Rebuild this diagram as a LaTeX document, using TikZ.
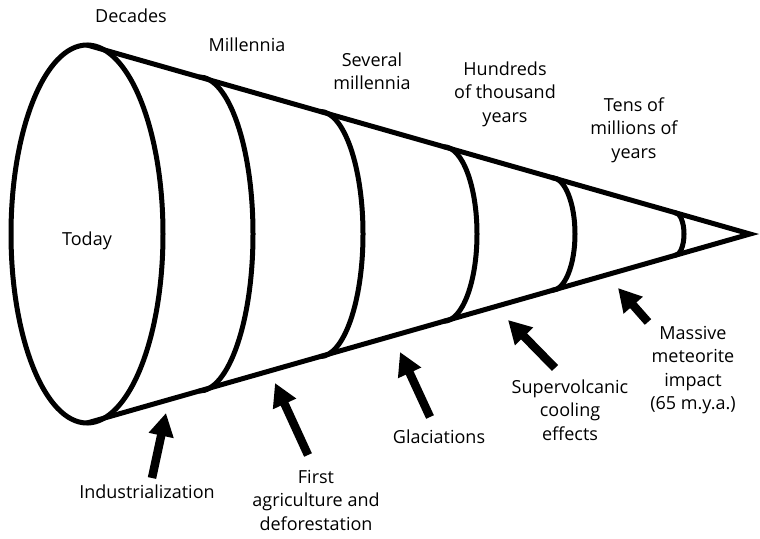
\documentclass[tikz,border=0pt]{standalone}
\usepackage{fontspec}
\setmainfont{Open Sans}
\usepackage{tikz}
\usetikzlibrary{arrows.meta}
\usepackage{xcolor}

\begin{document}
\begin{tikzpicture}[x=1pt,y=-1pt,font=\fontsize{18}{23.5}\selectfont,
  cone/.style={line width=5pt,line join=miter},
  push/.style={line width=8.5pt,-{Triangle[length=23pt,width=24pt]}},
  lbl/.style={align=center,inner sep=0pt}]
\useasboundingbox (0,0) rectangle (760,538);
% the cone
\draw[cone] (87,234) ellipse[x radius=76,y radius=189];
\draw[cone] (87,45) -- (750,234) -- (87,423);
\draw[cone] (199,76.9) arc[start angle=-90,end angle=90,x radius=54,y radius=157.1];
\draw[cone] (320,111.4) arc[start angle=-90,end angle=90,x radius=43,y radius=122.6];
\draw[cone] (444,146.8) arc[start angle=-90,end angle=90,x radius=33,y radius=87.2];
\draw[cone] (552,177.6) arc[start angle=-90,end angle=90,x radius=23,y radius=56.4];
\draw[cone] (675,212.6) arc[start angle=-90,end angle=90,x radius=9,y radius=21.4];
% time scales
\node[lbl] (today) at (87,241) {Today};
\node[lbl] (dec) at (131,16) {Decades};
\node[lbl] (mill) at (247,45) {Millennia};
\node[lbl] (sevmill) at (372,71) {Several\\millennia};
\node[lbl] (hund) at (505,94) {Hundreds\\of thousand\\years};
\node[lbl] (tens) at (634,130) {Tens of\\millions of\\years};
% events
\node[lbl] (ind) at (147,492) {Industrialization};
\node[lbl] (agri) at (316,500) {First\\agriculture and\\deforestation};
\node[lbl] (glac) at (439,437) {Glaciations};
\node[lbl] (volc) at (570,410) {Supervolcanic\\cooling\\effects};
\node[lbl] (meteor) at (693,370) {Massive\\meteorite\\impact\\(65 m.y.a.)};
\coordinate (indTail) at (152,478);
\coordinate (indTip) at (166,413);
\coordinate (agriTail) at (308,455);
\coordinate (agriTip) at (275,383);
\coordinate (glacTail) at (430,417);
\coordinate (glacTip) at (400,352);
\coordinate (volcTail) at (555,368);
\coordinate (volcTip) at (508,320);
\coordinate (meteorTail) at (648,322);
\coordinate (meteorTip) at (618,288);
\draw[push] (indTail) -- (indTip);
\draw[push] (agriTail) -- (agriTip);
\draw[push] (glacTail) -- (glacTip);
\draw[push] (volcTail) -- (volcTip);
\draw[push] (meteorTail) -- (meteorTip);
\end{tikzpicture}
\end{document}
